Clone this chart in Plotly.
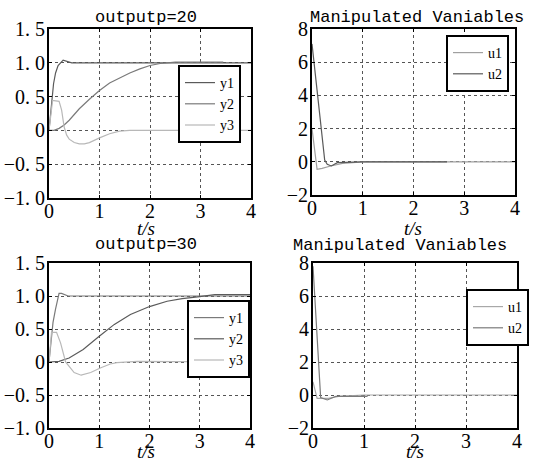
import plotly.graph_objects as go

W, H = 542, 461

# ---------------- data ----------------
# top-left: outputp=20
tl_t_y1 = [0, 0.05, 0.09, 0.13, 0.18, 0.28, 0.38, 0.45, 4.0]
tl_y1 = [0, 0.42, 0.69, 0.85, 0.96, 1.04, 1.02, 1.0, 1.0]
tl_t_y2 = [0, 0.1, 0.2, 0.3, 0.4, 0.5, 0.6, 0.8, 1.0, 1.2, 1.4, 1.6, 1.8, 2.0, 2.2, 2.5, 3.0, 3.45]
tl_y2 = [0, 0, 0.03, 0.08, 0.15, 0.24, 0.32, 0.46, 0.59, 0.70, 0.78, 0.85, 0.91, 0.96, 0.99, 1.01, 1.01, 1.01]
tl_t_y3 = [0, 0.07, 0.1, 0.2, 0.25, 0.3, 0.35, 0.4, 0.5, 0.6, 0.7, 0.8, 1.0, 1.2, 1.4, 1.6, 4.0]
tl_y3 = [0, 0.44, 0.44, 0.43, 0.3, 0.05, -0.07, -0.13, -0.18, -0.2, -0.2, -0.18, -0.11, -0.05, -0.01, 0, 0]

# top-right: manipulated variables
tr_t_u1 = [0, 0.1, 0.2, 0.35, 0.6, 1.0, 4.0]
tr_u1 = [2.0, -0.45, -0.4, -0.27, -0.1, 0, 0]
tr_t_u2 = [0, 0.25, 0.3, 0.38, 0.5, 1.0, 2.66]
tr_u2 = [7.1, 0.1, -0.15, -0.25, -0.05, 0, 0]

# bottom-left: outputp=30
bl_t_y1 = [0, 0.08, 0.13, 0.2, 0.25, 0.38, 4.0]
bl_y1 = [0, 0.6, 0.8, 1.04, 1.04, 1.0, 1.0]
bl_t_y2 = [0, 0.1, 0.2, 0.4, 0.68, 1.0, 1.3, 1.62, 2.0, 2.35, 2.65, 3.0, 3.3, 4.0]
bl_y2 = [0, 0, 0.01, 0.06, 0.19, 0.39, 0.57, 0.72, 0.84, 0.92, 0.96, 0.99, 1.02, 1.02]
bl_t_y3 = [0, 0.05, 0.15, 0.23, 0.33, 0.5, 0.64, 0.83, 1.02, 1.22, 1.35, 1.65, 1.76, 4.0]
bl_y3 = [0, 0.45, 0.45, 0.29, 0, -0.16, -0.2, -0.16, -0.09, -0.03, -0.01, 0.01, 0.01, 0]

# bottom-right: manipulated variables
br_t_u1 = [0, 0.08, 0.3, 0.5, 1.0, 4.0]
br_u1 = [0.8, -0.2, -0.2, -0.08, 0, 0]
br_t_u2 = [0, 0.15, 0.28, 0.45, 1.07]
br_u2 = [7.8, -0.15, -0.3, -0.08, -0.08]

x_ticks = [0, 1, 2, 3, 4]
x_ticktext = ["0", "1", "2", "3", "4"]
y_ticks_out = [-1.0, -0.5, 0, 0.5, 1.0, 1.5]
y_ticktext_out = ["\u22121. 0", "\u22120. 5", "0", "0. 5", "1. 0", "1. 5"]
y_ticks_u = [-2, 0, 2, 4, 6, 8]
y_ticktext_u = ["\u22122", "0", "2", "4", "6", "8"]

titles = ["outputp=20", "Manipulated Vaniables", "outputp=30", "Manipulated Vaniables"]

# ---------------- figure ----------------
C_DARK = "#5a5a5a"
C_MID = "#7a7a7a"
C_LIGHT = "#b8b8b8"
LW = 1.2

fig = go.Figure()

def add(t, v, name, color, ax, leg):
    fig.add_trace(go.Scatter(x=t, y=v, name=name, mode="lines",
                             line=dict(color=color, width=LW),
                             xaxis="x" + ax, yaxis="y" + ax, legend=leg))

add(tl_t_y1, tl_y1, "y1", C_DARK, "", "legend")
add(tl_t_y2, tl_y2, "y2", C_MID, "", "legend")
add(tl_t_y3, tl_y3, "y3", C_LIGHT, "", "legend")

add(tr_t_u1, tr_u1, "u1", "#a0a0a0", "2", "legend2")
add(tr_t_u2, tr_u2, "u2", C_DARK, "2", "legend2")

add(bl_t_y1, bl_y1, "y1", C_MID, "3", "legend3")
add(bl_t_y2, bl_y2, "y2", C_DARK, "3", "legend3")
add(bl_t_y3, bl_y3, "y3", C_LIGHT, "3", "legend3")

add(br_t_u1, br_u1, "u1", "#a8a8a8", "4", "legend4")
add(br_t_u2, br_u2, "u2", C_MID, "4", "legend4")

def px_dom_x(a, b):
    return [a / W, b / W]

def px_dom_y(top, bottom):
    return [1 - bottom / H, 1 - top / H]

TICKFONT = dict(family="Liberation Serif", size=20, color="black")

def xax(dom, anchor):
    return dict(domain=dom, anchor=anchor, range=[0, 4], tickvals=x_ticks, ticktext=x_ticktext,
                showline=True, linecolor="black", linewidth=2, mirror="ticks",
                ticks="inside", ticklen=3, tickcolor="black", ticklabelstandoff=-6,
                showgrid=True, gridcolor="#555555", griddash="dot", gridwidth=1,
                zeroline=False, tickfont=TICKFONT, fixedrange=True, automargin=False)

def yax(dom, anchor, rng, tv, tt):
    return dict(domain=dom, anchor=anchor, range=rng, tickvals=tv, ticktext=tt,
                showline=True, linecolor="black", linewidth=2, mirror="ticks",
                ticks="inside", ticklen=3, tickcolor="black", ticklabelstandoff=-2,
                showgrid=True, gridcolor="#555555", griddash="dot", gridwidth=1,
                zeroline=False, tickfont=TICKFONT, fixedrange=True, automargin=False)

LEGFONT = dict(family="Liberation Serif", size=14, color="black")

def leg(xr, yt):
    return dict(x=xr / W, y=1 - yt / H, xanchor="right", yanchor="top",
                bgcolor="white", bordercolor="black", borderwidth=2,
                font=LEGFONT, itemwidth=30, tracegroupgap=0)

fig.update_layout(
    template="none",
    width=W, height=H, margin=dict(l=0, r=0, t=0, b=0, pad=0, autoexpand=False),
    paper_bgcolor="white", plot_bgcolor="white",
    xaxis=xax(px_dom_x(49, 251), "y"),
    yaxis=yax(px_dom_y(29, 198), "x", [-1, 1.5], y_ticks_out, y_ticktext_out),
    xaxis2=xax(px_dom_x(312, 515), "y2"),
    yaxis2=yax(px_dom_y(29, 195), "x2", [-2, 8], y_ticks_u, y_ticktext_u),
    xaxis3=xax(px_dom_x(49, 250), "y3"),
    yaxis3=yax(px_dom_y(263, 428), "x3", [-1, 1.5], y_ticks_out, y_ticktext_out),
    xaxis4=xax(px_dom_x(313, 517), "y4"),
    yaxis4=yax(px_dom_y(263, 428), "x4", [-2, 8], y_ticks_u, y_ticktext_u),
    legend=leg(241, 65),
    legend2=leg(509, 35),
    legend3=leg(250, 300),
    legend4=leg(529, 289),
    showlegend=True,
)

TITLEFONT = dict(family="Liberation Mono", size=17, color="black")
LABFONT = dict(family="Liberation Serif", size=19, color="black")
title_pos = [(146, 17), (417, 17), (146, 244), (400, 245)]
for txt, (cx, cy) in zip(titles, title_pos):
    fig.add_annotation(text=txt, x=cx / W, y=1 - cy / H, xref="paper", yref="paper",
                       xanchor="center", yanchor="middle", showarrow=False, font=TITLEFONT)
lab_pos = [(146, 228), (413, 228), (146, 451), (415, 451)]
for (cx, cy) in lab_pos:
    fig.add_annotation(text="<i>t/s</i>", x=cx / W, y=1 - cy / H, xref="paper", yref="paper",
                       xanchor="center", yanchor="middle", showarrow=False, font=LABFONT)

fig.write_html("out.html", config={"displayModeBar": False})
